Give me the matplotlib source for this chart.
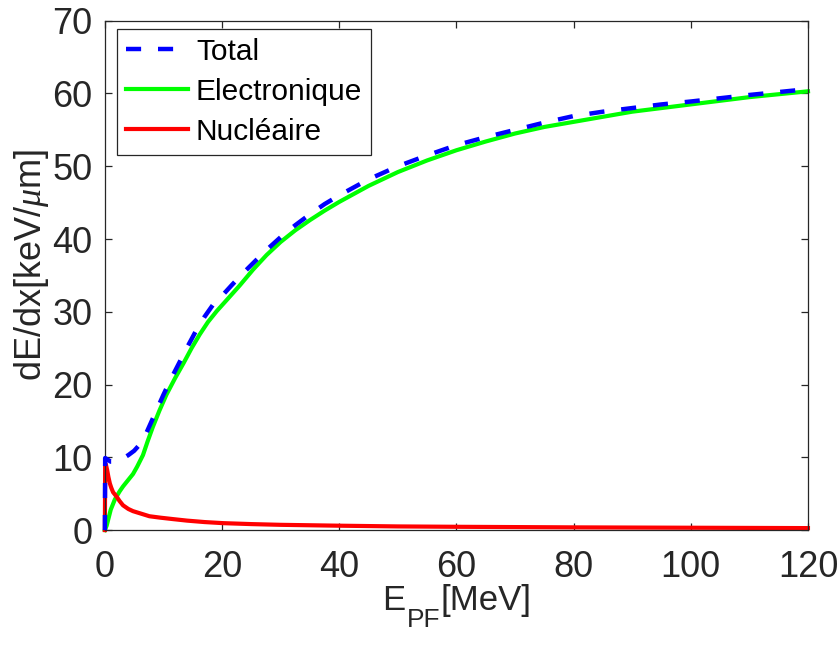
import matplotlib
matplotlib.use("Agg")
import matplotlib.pyplot as plt

plt.rcParams['font.family'] = ['Liberation Sans', 'DejaVu Sans']
plt.rcParams['mathtext.fontset'] = 'custom'
plt.rcParams['mathtext.it'] = 'Liberation Serif:italic'
plt.rcParams['mathtext.rm'] = 'Liberation Sans'

# Data (energy in MeV, stopping power in keV/um)
x_total = [0, 0.05, 1, 2, 3, 4, 5, 6, 7, 8, 9, 10, 11.3, 12.7, 14.1, 15.5, 17, 18.4, 20,
           21.7, 23.7, 25.7, 28, 30.2, 32.5, 35, 37.5, 40, 45, 50, 55, 60, 65, 70, 75, 80,
           85, 90, 95, 100, 110, 120]
y_total = [0, 9.9, 9.4, 9.4, 9.8, 10.3, 10.9, 11.8, 13.2, 15.0, 16.8, 18.6, 20.8, 23.0, 25.2,
           27.3, 29.3, 30.9, 32.2, 33.7, 35.4, 37.0, 38.8, 40.4, 41.9, 43.4, 44.8, 46.0, 48.2,
           50.0, 51.5, 52.9, 54.0, 55.0, 56.0, 56.9, 57.5, 58.0, 58.5, 58.9, 59.8, 60.6]

x_elec = [0, 0.3, 1, 1.7, 2.5, 3.1, 4, 4.8, 5.5, 6.5, 7.3, 8.2, 9.3, 10.5, 12, 13.4, 14.8,
          16.2, 17.6, 19.1, 21, 23, 25.3, 27.6, 30, 32.5, 35, 37.5, 40, 45, 50, 55, 60, 65,
          70, 75, 80, 85, 90, 95, 100, 110, 120]
y_elec = [0, 0.6, 2.8, 4.2, 5.3, 6.0, 6.9, 7.7, 8.7, 10.3, 12.2, 14.2, 16.4, 18.6, 20.9, 22.9,
          25.0, 26.9, 28.6, 30.1, 31.8, 33.6, 35.8, 37.8, 39.6, 41.2, 42.6, 43.9, 45.1, 47.3,
          49.2, 50.8, 52.2, 53.4, 54.5, 55.4, 56.1, 56.8, 57.5, 58.0, 58.5, 59.5, 60.3]

x_nuc = [0, 0.05, 0.2, 0.4, 0.6, 0.85, 1.1, 1.4, 2, 2.5, 3.1, 4, 4.8, 6, 7.6, 9.5, 11.7,
         14, 17, 20.2, 25, 30, 40, 50, 60, 80, 100, 120]
y_nuc = [0, 9.2, 8.9, 8.2, 7.3, 6.4, 5.8, 5.2, 4.6, 4.0, 3.4, 2.9, 2.6, 2.3, 1.9, 1.7, 1.5,
         1.3, 1.1, 0.95, 0.82, 0.72, 0.6, 0.5, 0.45, 0.37, 0.32, 0.27]

xticks = [0, 20, 40, 60, 80, 100, 120]
yticks = [0, 10, 20, 30, 40, 50, 60, 70]

W, H = 839, 648
fig = plt.figure(figsize=(W / 100, H / 100), dpi=100)
ax = fig.add_axes([0.125, 0.182, 0.838, 0.786])

ax.plot(x_total, y_total, color='#0000ff', lw=3.2, ls=(0, (3.4, 3.8)), label='Total',
        zorder=3, clip_on=False)
ax.plot(x_elec, y_elec, color='#00ff00', lw=3.0, label='Electronique', zorder=2, clip_on=False)
ax.plot(x_nuc, y_nuc, color='#ff0000', lw=3.0, label='Nucléaire', zorder=2, clip_on=False)

ax.set_xlim(0, 120)
ax.set_ylim(0, 70)
ax.set_xticks(xticks)
ax.set_yticks(yticks)

axc = '#262626'
for s in ax.spines.values():
    s.set_color(axc)
    s.set_linewidth(0.9)
ax.tick_params(direction='in', length=5, width=0.9, color=axc, top=True, right=True,
               labelsize=26, labelcolor=axc)
ax.tick_params(axis='x', pad=14)
ax.tick_params(axis='y', pad=9)

ax.set_ylabel('dE/dx[keV/$\\mu$m]', fontsize=26, color=axc)
ax.yaxis.set_label_coords(-0.076, 0.52)

# x label "E_PF[MeV]" with a MATLAB-like dropped subscript
tE = fig.text(0, 0, 'E', fontsize=25, color=axc, va='baseline')
tP = fig.text(0, 0, 'PF', fontsize=19, color=axc, va='baseline')
tM = fig.text(0, 0, '[MeV]', fontsize=25, color=axc, va='baseline')
fig.canvas.draw()
r = fig.canvas.get_renderer()
wE = tE.get_window_extent(r).width
wP = tP.get_window_extent(r).width
wM = tM.get_window_extent(r).width
bb = ax.get_window_extent(r)
xc = (bb.x0 + bb.x1) / 2
x0 = xc - (wE + wP + wM) / 2
base = H - 610
tE.set_position((x0 / W, base / H))
tP.set_position(((x0 + wE + 1) / W, (base - 17) / H))
tM.set_position(((x0 + wE + wP + 1) / W, base / H))

leg = ax.legend(loc='upper left', bbox_to_anchor=(0.017, 0.984), borderaxespad=0,
                fontsize=21.5, frameon=True, fancybox=False, shadow=False,
                handlelength=2.1, handletextpad=0.25, labelspacing=0.4, borderpad=0.3)
leg.get_frame().set_edgecolor(axc)
leg.get_frame().set_linewidth(0.9)
leg.get_frame().set_alpha(1)

fig.savefig('out.png', dpi=100)
